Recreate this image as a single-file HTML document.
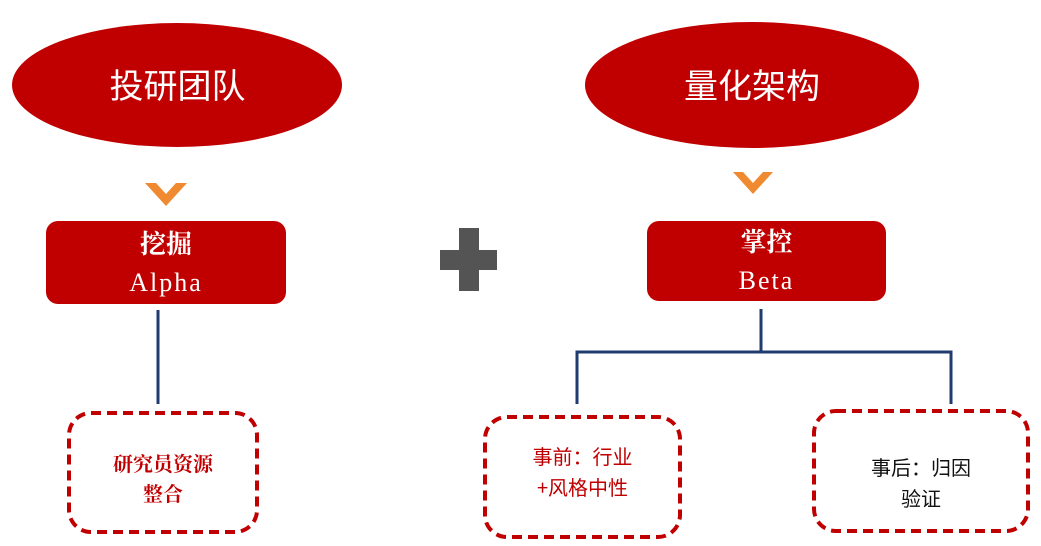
<!DOCTYPE html>
<html><head><meta charset="utf-8"><style>
body{margin:0;background:#fff;}
.wrap{position:relative;width:1041px;height:546px;overflow:hidden;background:#fff;font-family:"Liberation Serif","Noto Serif CJK SC",serif;}
.t{position:absolute;text-align:center;}
</style></head><body><div class="wrap">
<svg width="1041" height="546" style="position:absolute;left:0;top:0">
<ellipse cx="177" cy="85" rx="165" ry="62" fill="#C00000"/>
<ellipse cx="752" cy="85" rx="167" ry="63" fill="#C00000"/>
<polygon points="145,183 156,183 166,194 176,183 187,183 166,206" fill="#F08A30"/>
<polygon points="733,172 743,172 753,183 763,172 773,172 753,194" fill="#F08A30"/>
<rect x="46" y="221" width="240" height="83" rx="12" fill="#C00000"/>
<rect x="647" y="221" width="239" height="80" rx="12" fill="#C00000"/>
<rect x="459" y="228" width="20" height="63" fill="#545454"/>
<rect x="440" y="250" width="57" height="20" fill="#545454"/>
<g stroke="#1F3B70" stroke-width="3" fill="none">
<line x1="158" y1="310" x2="158" y2="404"/>
<polyline points="761,309 761,352"/>
<polyline points="577,404 577,352 951,352 951,404"/>
</g>
<g stroke="#C00000" stroke-width="4" fill="none" stroke-dasharray="10,6">
<rect x="69" y="413" width="188" height="119" rx="22"/>
<rect x="485" y="417" width="195" height="120" rx="22"/>
<rect x="814" y="411" width="214" height="120" rx="22"/>
</g>
</svg>
<div class="t" style="left:12px;top:64px;width:331px;font-size:34px;color:#fff;line-height:40px;font-family:'Noto Sans CJK SC',sans-serif">投研团队</div>
<div class="t" style="left:585px;top:64px;width:334px;font-size:34px;color:#fff;line-height:40px;font-family:'Noto Sans CJK SC',sans-serif">量化架构</div>
<div class="t" style="left:46px;top:226px;width:240px;font-size:26px;color:#fff;line-height:38px;"><b>挖掘</b><br><span style="letter-spacing:2px">Alpha</span></div>
<div class="t" style="left:647px;top:224px;width:239px;font-size:26px;color:#fff;line-height:38px;"><b>掌控</b><br><span style="letter-spacing:2px">Beta</span></div>
<div class="t" style="left:69px;top:450px;width:188px;font-size:20px;color:#C00000;line-height:30px;font-weight:bold">研究员资源<br>整合</div>
<div class="t" style="left:485px;top:440px;width:195px;font-size:20px;color:#C00000;line-height:31px;font-family:'Noto Sans CJK SC',sans-serif">事前：行业<br>+风格中性</div>
<div class="t" style="left:814px;top:451px;width:214px;font-size:20px;color:#111;line-height:31px;font-family:'Noto Sans CJK SC',sans-serif">事后：归因<br>验证</div>
</div></body></html>
